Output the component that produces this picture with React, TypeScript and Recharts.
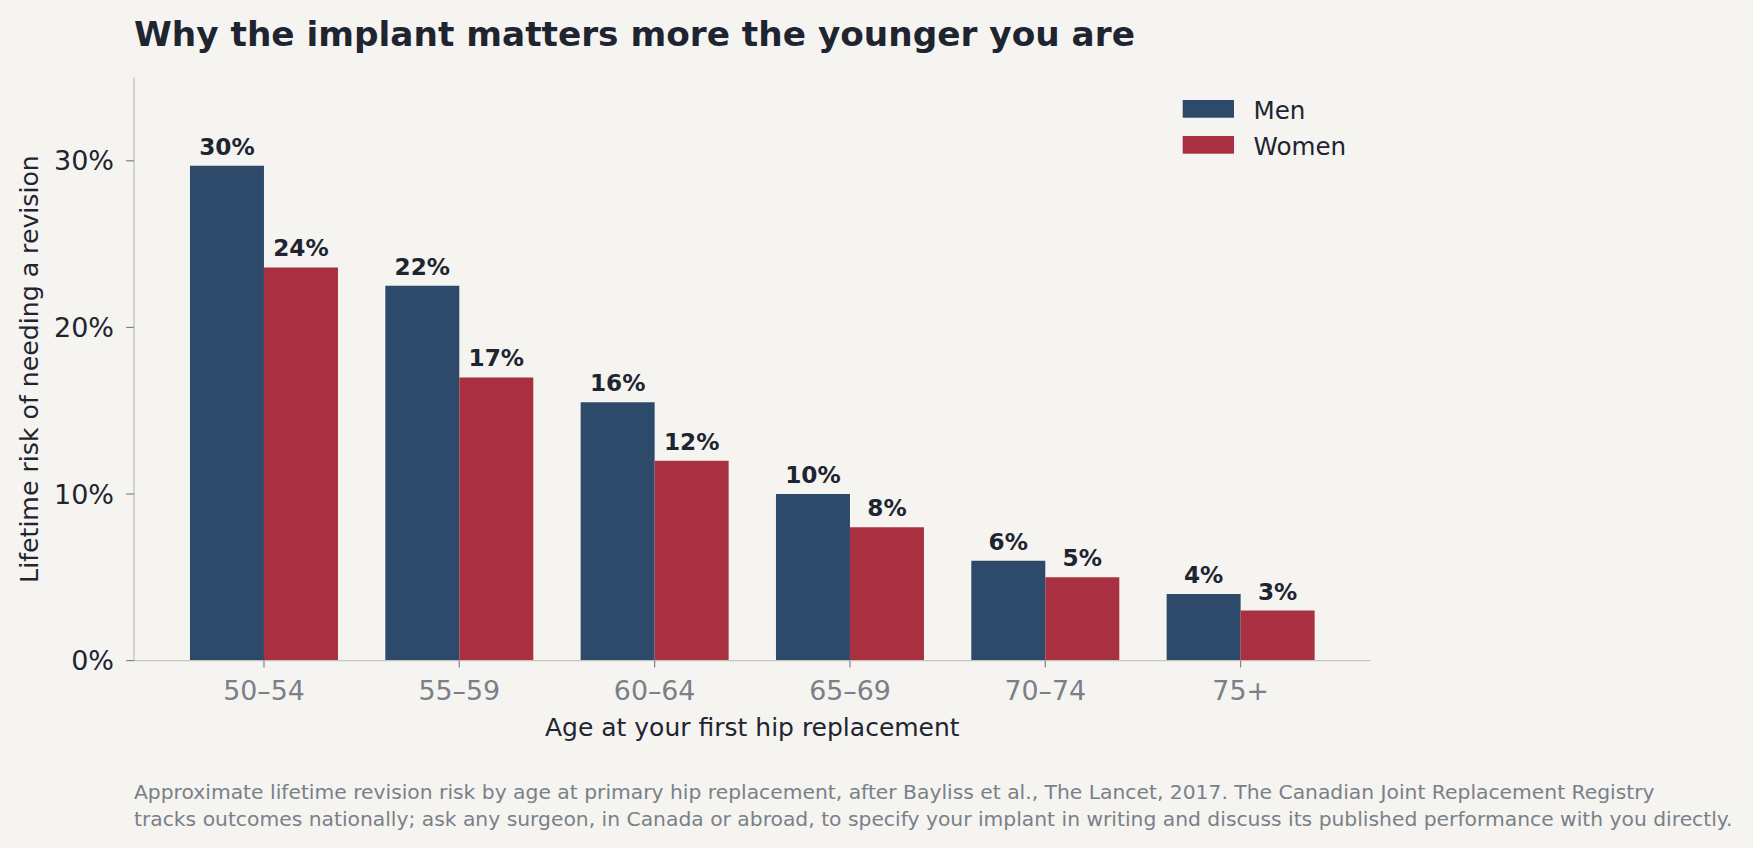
import { BarChart, Bar, XAxis, YAxis, LabelList, Label } from "recharts";

const ageGroups = ["50–54", "55–59", "60–64", "65–69", "70–74", "75+"];
const menRisk = [29.7, 22.5, 15.5, 10, 6, 4];
const womenRisk = [23.6, 17, 12, 8, 5, 3];
const yTicks = [0, 10, 20, 30];
const footnoteLines = [
  "Approximate lifetime revision risk by age at primary hip replacement, after Bayliss et al., The Lancet, 2017. The Canadian Joint Replacement Registry",
  "tracks outcomes nationally; ask any surgeon, in Canada or abroad, to specify your implant in writing and discuss its published performance with you directly.",
];

const FONT = "'DejaVu Sans', sans-serif";
const BG = "#f5f4f0";
const MEN = "#2e4a6a";
const WOMEN = "#a83040";
const INK = "#1f2530";
const MUTED = "#7a8088";
const AXIS = "#c6c4bd";

const data = ageGroups.map((age, i) => ({ age, men: menRisk[i], women: womenRisk[i] }));

// python-style rounding (half to even), so 22.5 -> 22
const pct = (v: number) => {
  let r = Math.round(v);
  if (Math.abs(v - Math.trunc(v)) === 0.5 && r % 2 !== 0) r -= 1;
  return `${r}%`;
};

export default function App() {
  return (
    <div
      style={{
        position: "absolute",
        left: 0,
        top: 0,
        width: 1753,
        height: 848,
        background: BG,
        fontFamily: FONT,
      }}
    >
      <BarChart
        width={1753}
        height={848}
        data={data}
        margin={{ top: 77.5, right: 382.4, left: 0, bottom: 107.4 }}
        barCategoryGap={23.67}
        barGap={0}
        style={{ fontFamily: FONT }}
      >
        <XAxis
          dataKey="age"
          height={80}
          padding={{ left: 32.3, right: 32.3 }}
          axisLine={{ stroke: AXIS, strokeWidth: 1.4 }}
          tickLine={{ stroke: "#7f848a", strokeWidth: 1.2 }}
          tickSize={7}
          tickMargin={13.5}
          tick={{ fill: MUTED, fontSize: 26.8, fontFamily: FONT }}
        >
          <Label
            content={({ viewBox }: any) => (
              <text
                x={viewBox.x + viewBox.width / 2}
                y={735.5}
                textAnchor="middle"
                fill={INK}
                fontSize={25}
                fontFamily={FONT}
              >
                Age at your first hip replacement
              </text>
            )}
          />
        </XAxis>
        <YAxis
          width={134}
          domain={[0, 35]}
          ticks={yTicks}
          tickFormatter={(v) => `${v}%`}
          axisLine={{ stroke: AXIS, strokeWidth: 1.4 }}
          tickLine={{ stroke: "#7f848a", strokeWidth: 1.2 }}
          tickSize={8}
          tickMargin={12}
          tick={{ fill: INK, fontSize: 27, fontFamily: FONT }}
        >
          <Label
            content={({ viewBox }: any) => {
              const cy = viewBox.y + viewBox.height / 2;
              return (
                <text
                  x={29}
                  y={cy}
                  dy="0.355em"
                  transform={`rotate(-90, 29, ${cy})`}
                  textAnchor="middle"
                  fill={INK}
                  fontSize={25.2}
                  fontFamily={FONT}
                >
                  Lifetime risk of needing a revision
                </text>
              );
            }}
          />
        </YAxis>
        <Bar dataKey="men" fill={MEN} isAnimationActive={false}>
          <LabelList
            dataKey="men"
            position="top"
            offset={11}
            formatter={(v: any) => pct(Number(v))}
            style={{ fill: INK, fontSize: 23.2, fontWeight: 700, fontFamily: FONT }}
          />
        </Bar>
        <Bar dataKey="women" fill={WOMEN} isAnimationActive={false}>
          <LabelList
            dataKey="women"
            position="top"
            offset={11}
            formatter={(v: any) => pct(Number(v))}
            style={{ fill: INK, fontSize: 23.2, fontWeight: 700, fontFamily: FONT }}
          />
        </Bar>
      </BarChart>

      {/* title, legend and footnote on top of the chart */}
      <svg
        width={1753}
        height={848}
        style={{ position: "absolute", left: 0, top: 0, pointerEvents: "none" }}
      >
        <text x={134} y={45.5} fill={INK} fontSize={34.3} fontWeight={700} fontFamily={FONT}>
          Why the implant matters more the younger you are
        </text>

        <rect x={1182.7} y={100} width={51.3} height={17.7} fill={MEN} />
        <text x={1253.5} y={118.5} fill={INK} fontSize={24.6} fontFamily={FONT}>
          Men
        </text>
        <rect x={1182.7} y={136} width={51.3} height={17.7} fill={WOMEN} />
        <text x={1253.5} y={155} fill={INK} fontSize={24.6} fontFamily={FONT}>
          Women
        </text>

        {footnoteLines.map((line, i) => (
          <text key={i} x={134} y={798.5 + i * 27.7} fill={MUTED} fontSize={20.3} fontFamily={FONT}>
            {line}
          </text>
        ))}
      </svg>
    </div>
  );
}
